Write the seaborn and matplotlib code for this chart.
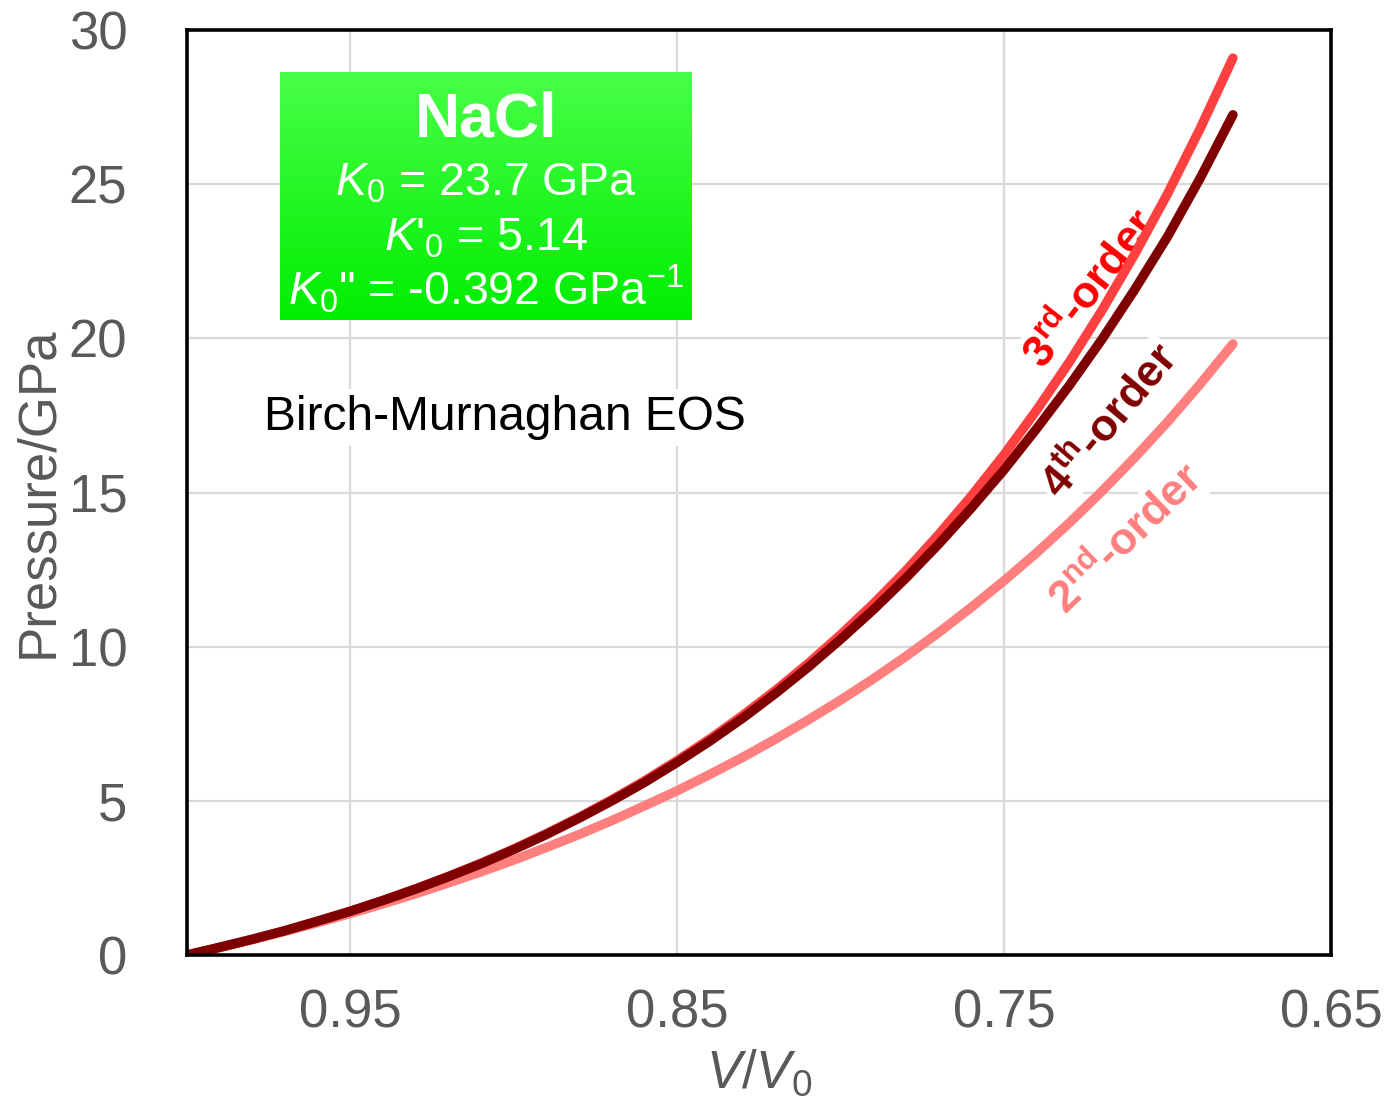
import numpy as np
import pandas as pd
import matplotlib
matplotlib.use("Agg")
import matplotlib.pyplot as plt
from matplotlib.colors import LinearSegmentedColormap
import seaborn as sns

# ---------------- data ----------------
vv0 = [1.00, 0.99, 0.98, 0.97, 0.96, 0.95, 0.94, 0.93, 0.92, 0.91,
       0.90, 0.89, 0.88, 0.87, 0.86, 0.85, 0.84, 0.83, 0.82, 0.81,
       0.80, 0.79, 0.78, 0.77, 0.76, 0.75, 0.74, 0.73, 0.72, 0.71,
       0.70, 0.69, 0.68]
p_2nd = [0.00, 0.24, 0.50, 0.77, 1.05, 1.35, 1.66, 1.99, 2.34, 2.70,
         3.08, 3.49, 3.91, 4.36, 4.84, 5.33, 5.86, 6.41, 7.00, 7.62,
         8.27, 8.96, 9.69, 10.46, 11.28, 12.14, 13.05, 14.02, 15.05, 16.14,
         17.29, 18.52, 19.82]
p_3rd = [0.00, 0.25, 0.51, 0.79, 1.10, 1.42, 1.77, 2.15, 2.55, 2.98,
         3.44, 3.94, 4.47, 5.04, 5.65, 6.31, 7.01, 7.77, 8.58, 9.45,
         10.39, 11.39, 12.47, 13.64, 14.89, 16.23, 17.68, 19.24, 20.92, 22.74,
         24.69, 26.81, 29.09]
p_4th = [0.00, 0.25, 0.51, 0.79, 1.10, 1.42, 1.77, 2.14, 2.54, 2.96,
         3.42, 3.91, 4.44, 5.00, 5.60, 6.25, 6.94, 7.68, 8.48, 9.33,
         10.24, 11.20, 12.23, 13.33, 14.50, 15.74, 17.08, 18.48, 19.98, 21.59,
         23.30, 25.20, 27.25]

series_names = ["2nd-order", "3rd-order", "4th-order"]
line_colors = {"2nd-order": "#FF7F7F", "3rd-order": "#FF4040", "4th-order": "#7F0000"}

x_ticks = [0.95, 0.85, 0.75, 0.65]
x_ticklabels = ["0.95", "0.85", "0.75", "0.65"]
y_ticks = [0, 5, 10, 15, 20, 25, 30]
y_ticklabels = ["0", "5", "10", "15", "20", "25", "30"]

df = pd.DataFrame({
    "V/V0": vv0 * 3,
    "P": p_2nd + p_3rd + p_4th,
    "order": [s for s in series_names for _ in vv0],
})

# ---------------- style ----------------
sns.set_theme(style="white")
plt.rcParams["font.family"] = ["Liberation Sans", "DejaVu Sans"]
plt.rcParams["mathtext.fontset"] = "custom"
plt.rcParams["mathtext.rm"] = "Liberation Sans"
plt.rcParams["mathtext.it"] = "Liberation Sans:italic"
plt.rcParams["mathtext.bf"] = "Liberation Sans:bold"

grey = "#595959"

fig = plt.figure(figsize=(13.99, 11.07), dpi=100)
ax = fig.add_axes([187 / 1399, 1 - 955 / 1107, 1144 / 1399, 925 / 1107])

for i, name in enumerate(series_names):
    sub = df[df["order"] == name]
    sns.lineplot(data=sub, x="V/V0", y="P", ax=ax, color=line_colors[name],
                 lw=6.8, solid_capstyle="round", solid_joinstyle="round",
                 zorder=3 + i, legend=False)

ax.set_xlim(1.0, 0.65)
ax.set_ylim(0, 30)
ax.set_xticks(x_ticks)
ax.set_xticklabels(x_ticklabels)
ax.set_yticks(y_ticks)
ax.set_yticklabels(y_ticklabels)
ax.tick_params(axis="both", length=0, labelsize=38, colors=grey)
ax.tick_params(axis="x", pad=24)
ax.tick_params(axis="y", pad=43)
ax.grid(True, color="#D9D9D9", lw=1.6)
ax.set_axisbelow(True)
for sp in ax.spines.values():
    sp.set_color("black")
    sp.set_linewidth(2.6)
    sp.set_zorder(10)

ax.set_xlabel(r"$V$/$V_0$", fontsize=38, color=grey)
ax.set_ylabel("Pressure/GPa", fontsize=38, color=grey)
ax.xaxis.set_label_coords(0.5, -0.1)
ax.yaxis.set_label_coords(-0.108, 0.5)

# Birch-Murnaghan label
ax.text(0.278, 0.5676, "Birch-Murnaghan EOS", transform=ax.transAxes,
        ha="center", va="baseline", fontsize=34.5, color="black", zorder=2,
        bbox=dict(facecolor="white", edgecolor="none", pad=4))

# curve labels
ax.text(0.7235, 21.6, r"3$^{\mathbf{rd}}$-order", rotation=52, rotation_mode="anchor",
        ha="center", va="center", fontsize=32, fontweight="bold", color="#FF0000",
        zorder=2, bbox=dict(facecolor="white", edgecolor="none", pad=2))
ax.text(0.7175, 17.3, r"4$^{\mathbf{th}}$-order", rotation=50, rotation_mode="anchor",
        ha="center", va="center", fontsize=32, fontweight="bold", color="#7F0000",
        zorder=2, bbox=dict(facecolor="white", edgecolor="none", pad=2))
ax.text(0.7125, 13.5, r"2$^{\mathbf{nd}}$-order", rotation=44, rotation_mode="anchor",
        ha="center", va="center", fontsize=32, fontweight="bold", color="#FF7F7F",
        zorder=2, bbox=dict(facecolor="white", edgecolor="none", pad=2))

# green parameter box
bax = fig.add_axes([280 / 1399, 1 - 320 / 1107, 412 / 1399, 248 / 1107])
cmap = LinearSegmentedColormap.from_list("g", ["#48FF48", "#00EE00"])
grad = np.linspace(0, 1, 256).reshape(-1, 1)
bax.imshow(grad, aspect="auto", cmap=cmap, extent=[0, 1, 0, 1], origin="upper")
bax.set_xlim(0, 1)
bax.set_ylim(0, 1)
bax.axis("off")
bax.text(0.5, 0.738, "NaCl", ha="center", va="baseline", fontsize=45,
         fontweight="bold", color="white")
bax.text(0.5, 0.504, r"$K_0$ = 23.7 GPa", ha="center", va="baseline",
         fontsize=33.5, color="white")
bax.text(0.5, 0.282, r"$K$'$_0$ = 5.14", ha="center", va="baseline",
         fontsize=33.5, color="white")
bax.text(0.5, 0.0605, r'$K_0$" = -0.392 GPa$^{-1}$', ha="center", va="baseline",
         fontsize=33.5, color="white")

fig.savefig("out.png", dpi=100)
